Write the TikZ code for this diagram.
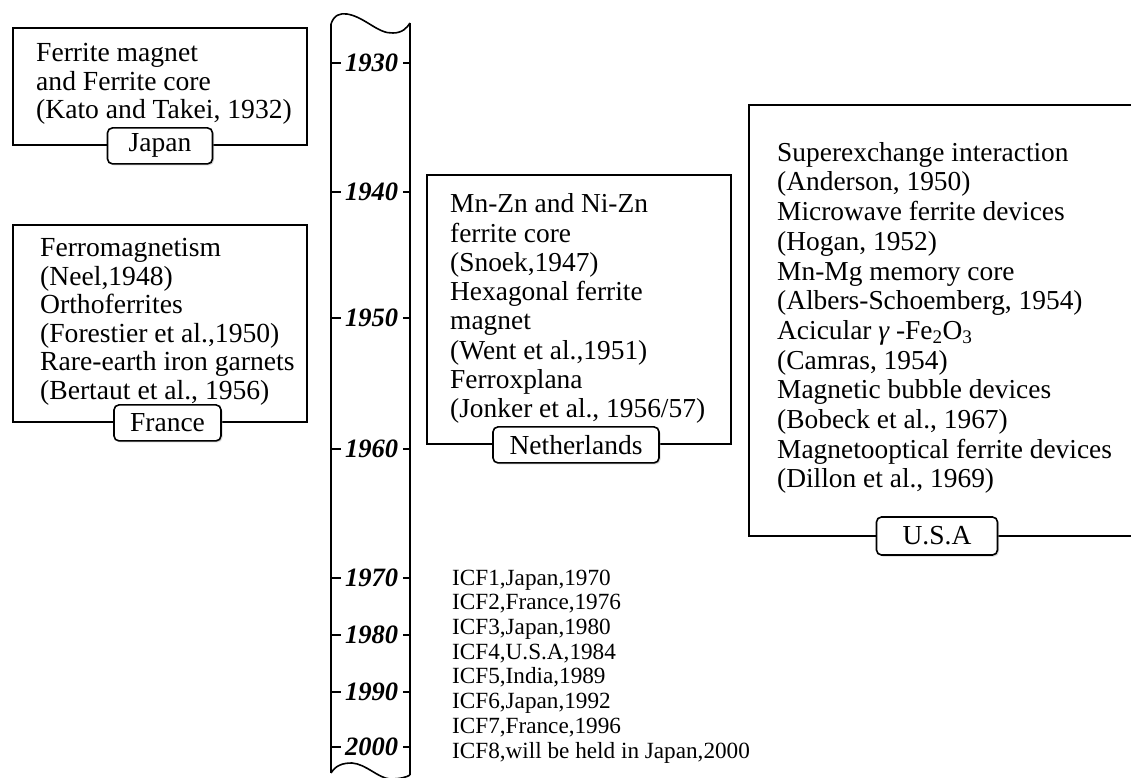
\documentclass[tikz,border=0pt]{standalone}
\usepackage{fontspec}
\setmainfont{Liberation Serif}
\usetikzlibrary{shadows}
\begin{document}
\begin{tikzpicture}[x=1pt,y=-1pt,
  frame/.style={draw, line width=1.8pt, inner sep=0pt, rectangle},
  tag/.style={draw, fill=white, rounded corners=5pt, line width=1.6pt,
    inner sep=0pt, minimum height=36pt, font=\fontsize{27.5}{27.5}\selectfont,
    drop shadow={shadow xshift=1.5pt, shadow yshift=-1.5pt, fill=black!30}},
  body/.style={anchor=north west, align=left, inner sep=0pt},
  axisline/.style={line width=1.6pt},
  tick/.style={line width=1.2pt},
  year/.style={inner sep=0pt, font=\fontsize{26.5}{26.5}\selectfont\bfseries\itshape}
]
\useasboundingbox (0,0) rectangle (1131,778);

% --- time axis ---
\draw[axisline] (331,24) .. controls (334,15) and (340,13) .. (347,14)
  .. controls (365,17) and (378,34) .. (393,33)
  .. controls (402,33) and (407,28) .. (410,23);
\draw[axisline] (331,773) .. controls (336,765) and (343,763) .. (352,763)
  .. controls (366,764) and (378,778) .. (390,779)
  .. controls (400,779) and (407,777) .. (410,775);
\coordinate (axtopL) at (331,24);
\coordinate (axbotL) at (331,773);
\coordinate (axtopR) at (410,23);
\coordinate (axbotR) at (410,775);
\draw[axisline] (axtopL) -- (axbotL);
\draw[axisline] (axtopR) -- (axbotR);
\foreach \yr/\yy in {1930/63,1940/192,1950/318,1960/449,1970/578,1980/635,1990/692,2000/747}{
  \node[year] (y\yr) at (371.5,\yy) {\yr};
  \draw[tick] (331,\yy) -- (341,\yy);
  \draw[tick] (403,\yy) -- (410,\yy);
}

% --- Japan ---
\node[frame, minimum width=294pt, minimum height=117pt] (japan) at (160,86.5) {};
\node[body, font=\fontsize{27.6}{28.5}\selectfont] (japantxt) at (36,43.5)
  {Ferrite magnet\\and Ferrite core\\(Kato and Takei, 1932)};
\node[tag, minimum width=105pt] (japantag) at (japan.south) {Japan};

% --- France ---
\node[frame, minimum width=294pt, minimum height=197pt] (france) at (160,323.5) {};
\node[body, font=\fontsize{27.6}{28.6}\selectfont] (francetxt) at (40,238)
  {Ferromagnetism\\(Neel,1948)\\Orthoferrites\\(Forestier et al.,1950)\\Rare-earth iron garnets\\(Bertaut et al., 1956)};
\node[tag, minimum width=107pt] (francetag) at ([xshift=7.5pt]france.south) {France};

% --- Netherlands ---
\node[frame, minimum width=304pt, minimum height=269pt] (nl) at (579,309.5) {};
\node[body, font=\fontsize{27.4}{29.3}\selectfont] (nltxt) at (450,193.5)
  {Mn-Zn and Ni-Zn\\ferrite core\\(Snoek,1947)\\Hexagonal ferrite\\magnet\\(Went et al.,1951)\\Ferroxplana\\(Jonker et al., 1956/57)};
\node[tag, minimum width=166pt] (nltag) at ([xshift=-3pt]nl.south) {Netherlands};

% --- U.S.A (panel runs on past the right edge) ---
\draw[line width=1.8pt] (1131,105) -| (749,536) -- (1131,536);
\coordinate (usabase) at (937,536);
\node[body, font=\fontsize{27.4}{29.7}\selectfont] (usatxt) at (777,142)
  {Superexchange interaction\\(Anderson, 1950)\\Microwave ferrite devices\\(Hogan, 1952)\\Mn-Mg memory core\\(Albers-Schoemberg, 1954)\\Acicular {\itshape γ} -Fe\textsubscript{2}O\textsubscript{3}\\(Camras, 1954)\\Magnetic bubble devices\\(Bobeck et al., 1967)\\Magnetooptical ferrite devices\\(Dillon et al., 1969)};
\node[tag, minimum width=121pt, minimum height=38pt] (usatag) at (usabase) {U.S.A};

% --- conferences ---
\node[body, font=\fontsize{23.2}{24.7}\selectfont] (icf) at (452,569.5)
  {ICF1,Japan,1970\\ICF2,France,1976\\ICF3,Japan,1980\\ICF4,U.S.A,1984\\ICF5,India,1989\\ICF6,Japan,1992\\ICF7,France,1996\\ICF8,will be held in Japan,2000};
\end{tikzpicture}
\end{document}
